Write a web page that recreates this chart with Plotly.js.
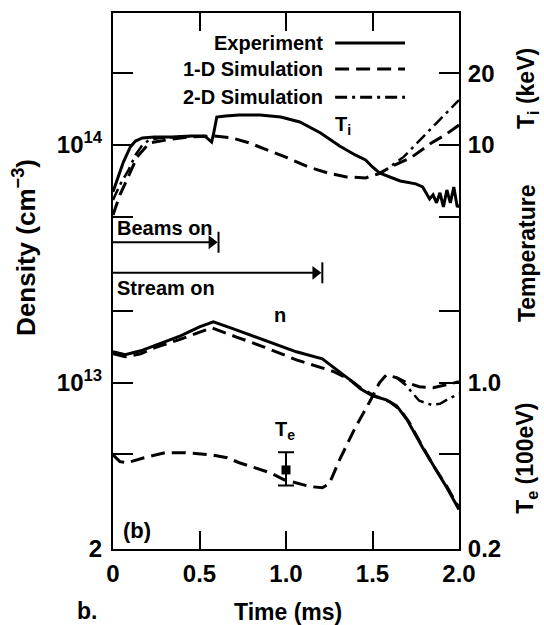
<!DOCTYPE html>
<html><head><meta charset="utf-8">
<script src="https://cdn.plot.ly/plotly-3.0.1.min.js"></script>
<style>html,body{margin:0;padding:0;background:#fff}#chart{width:544px;height:625px}</style>
</head><body><div id="chart"></div>
<script>
// ---- data (time in ms) ----
const timeTiExp = [0,0.03,0.06,0.10,0.13,0.17,0.24,0.34,0.45,0.53,0.57,0.58,0.60,0.65,0.73,0.85,0.97,1.08,1.20,1.31,1.40,1.46,1.50,1.54,1.60,1.66,1.75,1.79,1.83,1.85,1.87,1.89,1.91,1.93,1.95,1.97,1.99,2.00];
const TiExp = [6.35,7.27,8.48,9.81,10.39,10.70,10.80,10.80,10.91,10.91,10.29,11.02,13.11,13.24,13.37,13.37,13.11,12.49,11.23,9.90,9.08,8.65,8.08,7.63,7.34,7.06,6.86,6.66,5.93,6.17,5.71,6.29,5.49,6.47,5.71,6.66,5.49,5.60];

const timeTi1D = [0,0.04,0.08,0.14,0.21,0.31,0.43,0.58,0.69,0.79,0.89,1.01,1.13,1.24,1.35,1.46,1.53,1.63,1.72,1.84,1.92,2.00];
const Ti1D = [5.08,6.17,7.13,8.91,10.19,10.50,10.80,10.91,10.70,10.19,9.53,8.82,8.08,7.63,7.34,7.27,7.55,8.24,8.82,10.19,11.02,12.13];

const timeTi2D = [0,0.04,0.09,0.13,0.17,0.21,0.27,0.36,0.47,null,1.53,1.56,1.68,1.76,1.87,2.00];
const Ti2D = [5.87,6.79,7.85,9.08,10.0,10.5,10.7,10.8,10.91,null,7.55,7.70,8.91,10.19,12.37,15.45];

const timeNExp = [0,0.07,0.16,0.27,0.39,0.50,0.58,0.68,0.79,0.91,1.06,1.21,1.28,1.37,1.43,1.50,1.58,1.64,1.70,1.79,1.86,1.93,2.00];
const nExp = [1.350e13,1.311e13,1.363e13,1.459e13,1.576e13,1.720e13,1.805e13,1.703e13,1.591e13,1.473e13,1.350e13,1.261e13,1.156e13,1.029e13,0.944e13,0.882e13,0.848e13,0.800e13,0.699e13,0.533e13,0.439e13,0.362e13,0.293e13];

const timeN1D = [0,0.07,0.16,0.24,0.38,0.50,0.57,0.71,0.87,1.06,1.24,1.28,1.37,1.43,1.51,1.60,1.66,1.71,1.79,1.86,1.93,2.00];
const n1D = [1.324e13,1.286e13,1.324e13,1.403e13,1.516e13,1.637e13,1.703e13,1.561e13,1.417e13,1.249e13,1.134e13,1.112e13,1.029e13,0.953e13,0.882e13,0.832e13,0.770e13,0.686e13,0.538e13,0.439e13,0.366e13,0.298e13];

const timeTe1D = [0,0.04,0.08,0.18,0.30,0.42,0.57,0.66,0.73,0.82,0.91,0.99,1.14,1.21,1.25,1.31,1.40,1.49,1.54,1.58,1.64,1.70,1.77,1.85,1.92,2.00];
const Te1D = [0.498,0.466,0.461,0.484,0.508,0.508,0.498,0.484,0.461,0.439,0.418,0.391,0.366,0.362,0.376,0.475,0.647,0.848,1.0,1.080,1.050,1.0,0.962,0.953,0.981,1.010];

const timeTe2D = [1.64,1.69,1.73,1.77,1.84,1.89,1.94,2.00];
const Te2D = [1.050,0.981,0.908,0.840,0.808,0.816,0.856,0.899];

const timeTeMeas = [1.0];
const TeMeas = [0.43];
const TeErrPlus = [0.08];
const TeErrMinus = [0.06];

const arrowLabels = ['Beams on', 'Stream on'];
const arrowEnd = [0.6, 1.2];
const arrowLevel = [3.9e13, 2.9e13];

const legendLabels = ['Experiment', '1-D Simulation', '2-D Simulation'];

const xTickVals = [0, 0.5, 1.0, 1.5, 2.0];
const xTickText = ['0', '0.5', '1.0', '1.5', '2.0'];
const nTickVals = [2e12, 1e13, 1e14];
const nTickText = ['2', '10<sup>13</sup>', '10<sup>14</sup>'];
const nMinorVals = [5e12, 2e13, 5e13, 2e14];
const TTickVals = [0.2, 1, 10, 20];
const TTickText = ['0.2', '1.0', '10', '20'];
const TMinorVals = [0.5, 2, 5];

// ---- styles ----
const FONT = 'Liberation Sans, Arial, sans-serif';
const DASH = '14px,7px';
const DASHDOT = '12px,5px,3px,5px';
const LW = 3;
const blk = '#000';

const traces = [
  {x: timeTiExp, y: TiExp, yaxis: 'y2', mode: 'lines', line: {color: blk, width: LW}},
  {x: timeTi1D, y: Ti1D, yaxis: 'y2', mode: 'lines', line: {color: blk, width: LW, dash: DASH}},
  {x: timeTi2D, y: Ti2D, yaxis: 'y2', mode: 'lines', line: {color: blk, width: 2.5, dash: DASHDOT}},
  {x: timeNExp, y: nExp, yaxis: 'y', mode: 'lines', line: {color: blk, width: LW}},
  {x: timeN1D, y: n1D, yaxis: 'y', mode: 'lines', line: {color: blk, width: LW, dash: DASH}},
  {x: timeTe1D, y: Te1D, yaxis: 'y2', mode: 'lines', line: {color: blk, width: LW, dash: DASH}},
  {x: timeTe2D, y: Te2D, yaxis: 'y2', mode: 'lines', line: {color: blk, width: 2.5, dash: DASHDOT}},
  {x: timeTeMeas, y: TeMeas, yaxis: 'y2', mode: 'markers',
   marker: {symbol: 'square', size: 9, color: blk},
   error_y: {type: 'data', symmetric: false, array: TeErrPlus, arrayminus: TeErrMinus, color: blk, thickness: 2, width: 8}}
];

// "Beams on" / "Stream on" arrows drawn as traces
arrowLabels.forEach((lab, i) => {
  traces.push({x: [0, arrowEnd[i] - 0.03], y: [arrowLevel[i], arrowLevel[i]], yaxis: 'y', mode: 'lines',
    line: {color: blk, width: 2}});
  traces.push({x: [arrowEnd[i] - 0.03], y: [arrowLevel[i]], yaxis: 'y', mode: 'markers',
    marker: {symbol: 'triangle-right', size: 12, color: blk}});
  traces.push({x: [arrowEnd[i] + 0.01], y: [arrowLevel[i]], yaxis: 'y', mode: 'markers',
    marker: {symbol: 'line-ns-open', size: 15, color: blk, line: {color: blk, width: 2}}});
});

const nLogRange = [Math.log10(2e12), 14.555];
const span = nLogRange[1] - nLogRange[0];
const TLogRange = [Math.log10(0.2), Math.log10(0.2) + span];

const tickFont = {family: FONT, size: 24, color: blk, weight: 'bold'};

const annotations = [];
const shapes = [];
function txt(text, x, y, size, opts) {
  annotations.push(Object.assign({text: text, x: x, y: y, xref: 'paper', yref: 'paper', showarrow: false,
    xanchor: 'center', yanchor: 'middle', font: {family: FONT, size: size, color: blk, weight: 'bold'}}, opts || {}));
}
// axis titles and labels
txt('Density (cm<sup>−3</sup>)', -0.254, 0.562, 26, {textangle: -90});
txt('Temperature', 1.1965, 0.552, 23, {textangle: -90});
txt('T<sub>i</sub> (keV)', 1.1965, 0.860, 23, {textangle: -90});
txt('T<sub>e</sub> (100eV)', 1.1965, 0.170, 23, {textangle: -90});
txt('Time (ms)', 0.506, -0.118, 23);
txt('b.', -0.075, -0.116, 23);
txt('(b)', 0.069, 0.034, 22);
txt('T<sub>i</sub>', 0.665, 0.791, 20);
txt('n', 0.483, 0.437, 20);
txt('T<sub>e</sub>', 0.497, 0.222, 20);

// legend (text then line sample)
const legY = [0.944, 0.8955, 0.843];
const legDash = ['solid', DASH, DASHDOT];
legendLabels.forEach((lab, i) => {
  txt(lab, 0.613, legY[i], 20, {xanchor: 'right'});
  shapes.push({type: 'line', xref: 'paper', yref: 'paper', x0: 0.642, x1: 0.844, y0: legY[i], y1: legY[i],
    line: {color: blk, width: LW, dash: legDash[i]}});
});

// arrow captions
arrowLabels.forEach((lab, i) => {
  const ly = Math.log10(arrowLevel[i]);
  annotations.push({text: lab, x: 0.01, y: ly + (i === 0 ? 0.06 : -0.065), xref: 'x', yref: 'y', showarrow: false,
    xanchor: 'left', yanchor: 'middle', font: {family: FONT, size: 20, color: blk, weight: 'bold'}});
});

const minorStyle = {ticks: 'inside', ticklen: 20, tickwidth: 2, tickcolor: blk, showgrid: false};

const layout = {
  width: 544, height: 625,
  margin: {l: 113, r: 85, t: 13, b: 76},
  paper_bgcolor: '#fff', plot_bgcolor: '#fff',
  showlegend: false,
  xaxis: {range: [0, 2], tickvals: xTickVals, ticktext: xTickText, ticks: 'inside', ticklen: 18, tickwidth: 2,
    tickcolor: blk, showline: true, linewidth: 2, linecolor: blk, mirror: 'ticks', showgrid: false, zeroline: false,
    tickfont: tickFont, ticklabelstandoff: 2},
  yaxis: {type: 'log', range: nLogRange, tickvals: nTickVals, ticktext: nTickText, ticks: 'inside', ticklen: 20,
    tickwidth: 2, tickcolor: blk, showline: true, linewidth: 2, linecolor: blk, showgrid: false, zeroline: false,
    tickfont: tickFont, ticklabelstandoff: 4,
    minor: Object.assign({tickvals: nMinorVals}, minorStyle)},
  yaxis2: {type: 'log', range: TLogRange, overlaying: 'y', side: 'right', anchor: 'x', tickvals: TTickVals,
    ticktext: TTickText, ticks: 'inside', ticklen: 20, tickwidth: 2, tickcolor: blk, showline: true, linewidth: 2,
    linecolor: blk, showgrid: false, zeroline: false, tickfont: tickFont, ticklabelstandoff: 2,
    minor: Object.assign({tickvals: TMinorVals}, minorStyle)},
  annotations: annotations,
  shapes: shapes
};

Plotly.newPlot('chart', traces, layout, {staticPlot: true, displayModeBar: false});
</script></body></html>
